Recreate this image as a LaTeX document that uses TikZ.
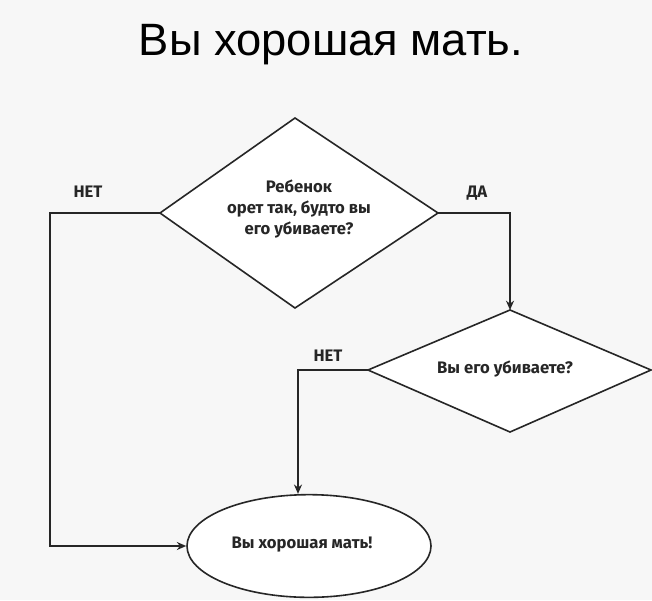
\documentclass[tikz,border=0pt]{standalone}
\usepackage{fontspec}
\setmainfont{Liberation Sans}
\newfontfamily\lab{Fira Sans}
\usetikzlibrary{shapes.geometric,arrows.meta}
\begin{document}
\begin{tikzpicture}[x=0.75pt,y=-0.75pt,
  ln/.style={line width=1.2pt,draw=black!85},
  arr/.style={ln,-{Stealth[length=7pt,width=6pt]}},
  txt/.style={font=\lab\bfseries\fontsize{12.5}{16}\selectfont,align=center,text=black!85}]
\fill[white!94!gray] (0,0) rectangle (652,600);
\useasboundingbox (0,0) rectangle (652,600);
\node (title) at (331,45) {\fontsize{34}{38}\selectfont Вы хорошая мать.};
% diamond 1
\coordinate (d1t) at (295,118); \coordinate (d1l) at (160,213);
\coordinate (d1r) at (438,213); \coordinate (d1b) at (295,308);
\draw[ln,fill=white] (d1t)--(d1r)--(d1b)--(d1l)--cycle;
\node[txt] (q1) at (299,209) {Ребенок\\орет так, будто вы\\его убиваете?};
% diamond 2
\coordinate (d2t) at (510,310); \coordinate (d2l) at (368,370);
\coordinate (d2r) at (651,370); \coordinate (d2b) at (510,432);
\draw[ln,fill=white] (d2t)--(d2r)--(d2b)--(d2l)--cycle;
\node[txt] (q2) at (505,369) {Вы его убиваете?};
% ellipse
\node[ln,ellipse,fill=white,minimum width=183pt,minimum height=77pt,inner sep=0] (e) at (309,546) {};
\node[txt] (et) at (302,545) {Вы хорошая мать!};
% connectors
\coordinate (c1) at (50,213);
\draw[arr] (d1l)--(c1)--(c1 |- e.west)--(e.west);
\coordinate (c3) at (510,213);
\draw[arr] (d1r)--(c3)--(d2t);
\coordinate (c4) at (298,370);
\draw[arr] (d2l)--(c4)--(e.north -| c4);
\node[txt] (n1) at (88,192) {НЕТ};
\node[txt] (da) at (477,193) {ДА};
\node[txt] (n2) at (328,356) {НЕТ};
\end{tikzpicture}
\end{document}
